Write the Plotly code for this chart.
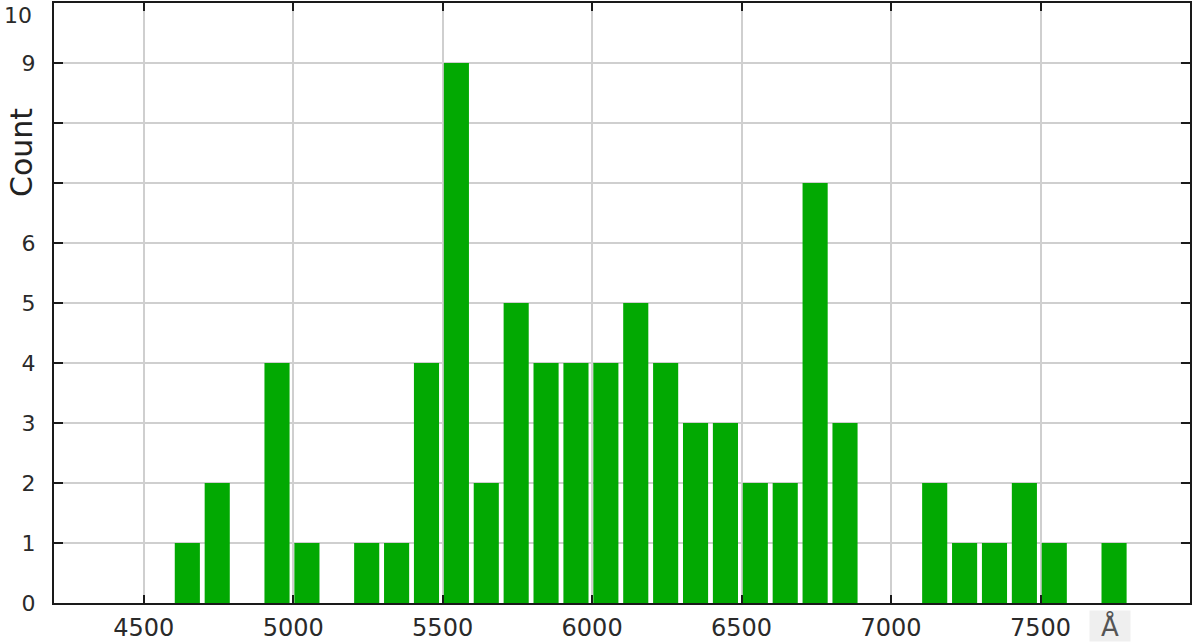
import plotly.graph_objects as go

# histogram bins (left edge, Å) and counts per 100 Å bin
bin_start = [4600, 4700, 4900, 5000, 5200, 5300, 5400, 5500, 5600, 5700, 5800, 5900, 6000, 6100,
             6200, 6300, 6400, 6500, 6600, 6700, 6800, 7100, 7200, 7300, 7400, 7500, 7700]
counts = [1, 2, 4, 1, 1, 1, 4, 9, 2, 5, 4, 4, 4, 5,
          4, 3, 3, 2, 2, 7, 3, 2, 1, 1, 2, 1, 1]

x_ticks = [4500, 5000, 5500, 6000, 6500, 7000, 7500]
y_ticks = list(range(0, 11))
# 7 and 8 sit under the axis title; 10 is drawn as a note so it is not clipped
y_labels = ["" if v in (7, 8, 10) else str(v) for v in y_ticks]

FONT = "DejaVu Sans, Verdana, sans-serif"
AXIS_COLOR = "#1a1a1a"
TEXT = "#2a2a2a"
GRID = "#cfcfcf"

fig = go.Figure(
    go.Bar(
        x=bin_start,
        y=counts,
        offset=4,
        width=84,
        marker={"color": "#02a902", "line": {"width": 0}},
        hovertemplate="%{x} Å<br>%{y}<extra></extra>",
    )
)

axis_common = {
    "showgrid": True,
    "gridcolor": GRID,
    "gridwidth": 2,
    "zeroline": False,
    "showline": True,
    "linecolor": AXIS_COLOR,
    "linewidth": 2,
    "mirror": "ticks",
    "ticks": "inside",
    "tickwidth": 2,
    "tickcolor": AXIS_COLOR,
    "automargin": False,
}

fig.update_layout(
    width=1200,
    height=643,
    margin={"l": 54, "r": 10, "t": 3, "b": 40},
    plot_bgcolor="white",
    paper_bgcolor="white",
    showlegend=False,
    font={"family": FONT, "color": TEXT},
    xaxis={
        **axis_common,
        "range": [4200, 8000],
        "tickvals": x_ticks,
        "ticktext": [str(v) for v in x_ticks],
        "tickfont": {"size": 24, "color": TEXT},
        "ticklen": 8,
        "ticklabelstandoff": 2,
    },
    yaxis={
        **axis_common,
        "range": [0, 10],
        "tickvals": y_ticks,
        "ticktext": y_labels,
        "tickfont": {"size": 22, "color": TEXT},
        "ticklen": 9,
        "ticklabelstandoff": 12,
    },
    annotations=[
        {
            "text": "Count",
            "xref": "paper", "yref": "paper",
            "x": -0.029, "y": 0.75,
            "textangle": -90,
            "showarrow": False,
            "font": {"size": 30, "color": "#222222", "family": FONT},
            "xanchor": "center", "yanchor": "middle",
        },
        {
            "text": "10",
            "xref": "paper", "yref": "paper",
            "x": 0, "y": 1.003,
            "xshift": -20,
            "showarrow": False,
            "font": {"size": 22, "color": TEXT, "family": FONT},
            "xanchor": "right", "yanchor": "top",
        },
        {
            "text": "Å",
            "xref": "paper", "yref": "paper",
            "x": 0.9296, "y": -0.012,
            "showarrow": False,
            "bgcolor": "#efefef",
            "width": 40,
            "height": 30,
            "borderpad": 0,
            "font": {"size": 26, "color": "#555555", "family": FONT},
            "xanchor": "center", "yanchor": "top",
        },
    ],
)

# drop the page's default body margin so the 1200x643 figure fills the window
fig.write_html(
    "out.html",
    config={"displayModeBar": False},
    post_script="document.body.style.margin = '0';",
)
